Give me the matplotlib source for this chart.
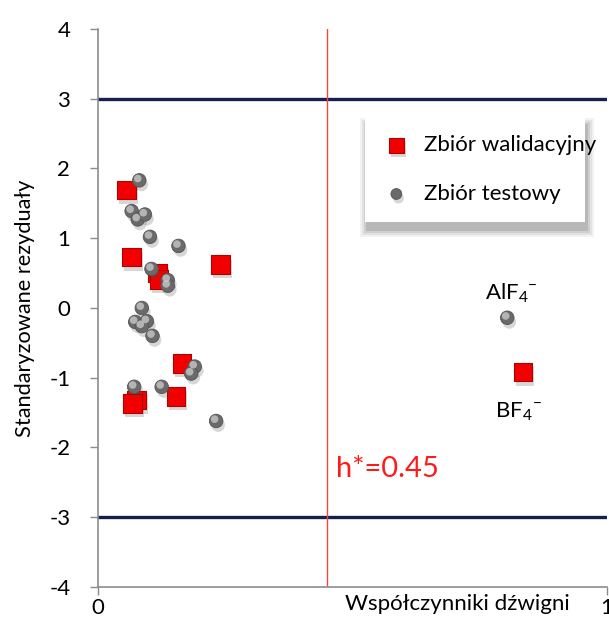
import matplotlib
matplotlib.use("Agg")
import matplotlib.pyplot as plt
import matplotlib.patheffects as pe
from matplotlib.patches import Rectangle
from matplotlib.transforms import offset_copy

plt.rcParams['font.family'] = ['Lato', 'DejaVu Sans']
plt.rcParams['mathtext.fontset'] = 'custom'
plt.rcParams['mathtext.rm'] = 'Lato'
plt.rcParams['axes.unicode_minus'] = False

# Validation set (red squares)
val_x = [0.056, 0.066, 0.117, 0.120, 0.241, 0.165, 0.153, 0.075, 0.068, 0.835]
val_y = [1.69, 0.73, 0.50, 0.41, 0.62, -0.80, -1.27, -1.32, -1.37, -0.92]
# Test set (gray spheres)
test_x = [0.081, 0.066, 0.078, 0.092, 0.102, 0.158, 0.105, 0.137, 0.137, 0.086,
          0.073, 0.096, 0.086, 0.107, 0.190, 0.183, 0.071, 0.125, 0.232, 0.804]
test_y = [1.83, 1.39, 1.27, 1.34, 1.02, 0.89, 0.56, 0.40, 0.32, 0.00,
          -0.20, -0.19, -0.26, -0.40, -0.84, -0.94, -1.13, -1.13, -1.62, -0.14]
h_star = 0.45
limits = [3, -3]
y_ticks = [4, 3, 2, 1, 0, -1, -2, -3, -4]
x_ticks = [0, 1]

fig = plt.figure(figsize=(6.09, 6.22), dpi=100)
ax = fig.add_axes([0.161, 0.0563, 0.8357, 0.8971])
ax.set_xlim(0, 1)
ax.set_ylim(-4, 4)

for lim in limits:
    ax.axhline(lim, color='#17204d', lw=2.4, zorder=2)
ax.axvline(h_star, color='#f04a3a', lw=1.0, zorder=2)

shadow = [pe.SimplePatchShadow(offset=(1.5, -3), alpha=0.22, shadow_rgbFace='0.3'), pe.Normal()]

sq = ax.scatter(val_x, val_y, marker='s', s=180, c='#f20000', edgecolors='#b00000',
                linewidths=0.8, zorder=4, label='Zbiór walidacyjny')
sq.set_path_effects(shadow)
sp = ax.scatter(test_x, test_y, marker='o', s=95, c='#6a6a6a', edgecolors='#555555',
                linewidths=0.6, zorder=5, label='Zbiór testowy')
sp.set_path_effects(shadow)
hl = offset_copy(ax.transData, fig=fig, x=-1.1, y=1.3, units='points')
ax.scatter(test_x, test_y, marker='o', s=30, c='#c8c8c8', edgecolors='none',
           zorder=6, transform=hl, alpha=0.8)

ax.text(h_star + 0.017, -2.42, 'h*=0.45', color='#ff1a1a', fontsize=21, va='baseline', ha='left')
ax.text(0.760, 0.12, r'AlF$_{4}{}^{-}$', fontsize=16, ha='left', va='baseline')
ax.text(0.780, -1.57, r'BF$_{4}{}^{-}$', fontsize=16, ha='left', va='baseline')

ax.set_yticks(y_ticks)
ax.set_xticks(x_ticks)
ax.set_xticklabels(['0', '1'])
ax.tick_params(axis='both', colors='#8c8c8c', labelcolor='black', labelsize=16,
               direction='out', length=6, width=1)
ax.tick_params(axis='y', pad=14)
ax.tick_params(axis='x', pad=2)
for s in ['top', 'right']:
    ax.spines[s].set_visible(False)
for s in ['left', 'bottom']:
    ax.spines[s].set_color('#8c8c8c')
    ax.spines[s].set_linewidth(1.2)

ax.set_ylabel('Standaryzowane rezyduały', fontsize=15.7, labelpad=10)
ax.text(0.707, -4.1, 'Współczynniki dźwigni', fontsize=16, ha='center', va='top')

# legend box with soft shadow
bx0, by0, bw, bh = 0.525, 0.654, 0.432, 0.188
px_x, px_y = 1 / 509, 1 / 558
for k, a in [(7, 0.06), (5, 0.08), (3, 0.10), (1, 0.14)]:
    ax.add_patch(Rectangle((bx0 + 2 * px_x - k * px_x, by0 - 8 * px_y - k * px_y),
                           bw + 2 * k * px_x, bh + 2 * k * px_y, transform=ax.transAxes,
                           facecolor='#303030', edgecolor='none', alpha=a,
                           zorder=7, clip_on=False))
ax.add_patch(Rectangle((bx0, by0), bw, bh, transform=ax.transAxes, facecolor='white',
                       edgecolor='none', zorder=7.5, clip_on=False))

leg = ax.legend(loc='upper left', bbox_to_anchor=(0.525, 0.842), borderaxespad=0,
                fontsize=16, frameon=False,
                handletextpad=0.65, borderpad=0.8, labelspacing=1.3, markerscale=0.8,
                handlelength=1.2)
leg.set_zorder(8)

fig.savefig('out.png', dpi=100)
